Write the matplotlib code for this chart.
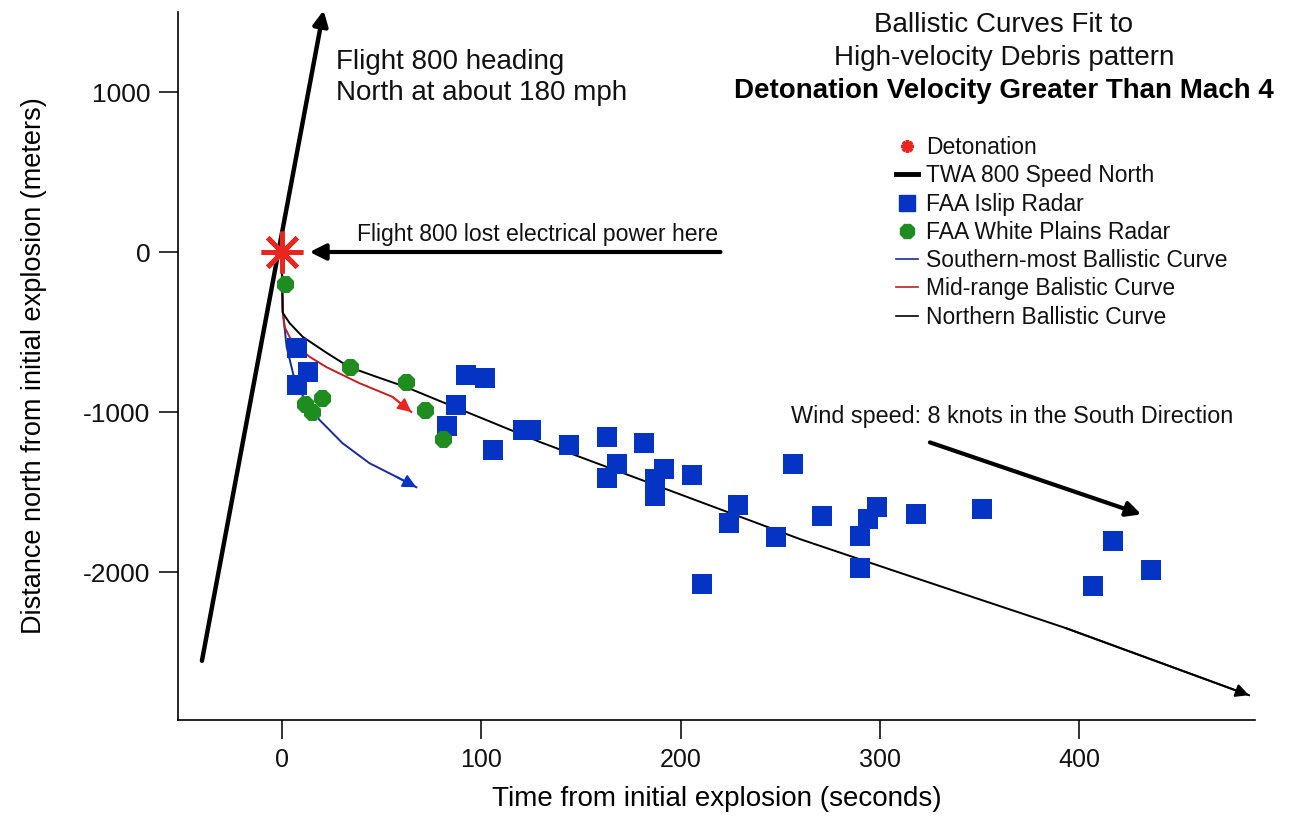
import matplotlib
matplotlib.use("Agg")
import matplotlib.pyplot as plt
from matplotlib.lines import Line2D

plt.rcParams['font.family'] = ['Liberation Sans', 'DejaVu Sans']
plt.rcParams['axes.unicode_minus'] = False

# FAA Islip radar returns (seconds, meters north)
islip_t = [7.5, 13, 7.5, 92.5, 102, 87.5, 83, 106, 121, 125, 144, 163, 163, 168,
           181.5, 191.5, 187, 187, 205.5, 229, 224.5, 248, 210.5, 256.5, 271, 298.5,
           294, 290, 290, 318, 351, 417, 436, 407]
islip_y = [-600, -750, -830, -770, -790, -955, -1090, -1240, -1115, -1115, -1205,
           -1155, -1415, -1325, -1195, -1355, -1420, -1525, -1395, -1580, -1695,
           -1780, -2075, -1325, -1650, -1595, -1670, -1775, -1975, -1640, -1605,
           -1805, -1990, -2090]

# FAA White Plains radar returns
wp_t = [1.5, 11.5, 15, 20, 34, 62.5, 72, 81]
wp_y = [-200, -950, -1000, -910, -720, -812, -988, -1170]

# ballistic curves
south_t = [0, 0.5, 2.5, 6.5, 12.5, 19, 30.5, 44, 57.5, 67.5]
south_y = [0, -365, -595, -800, -945, -1050, -1195, -1320, -1405, -1470]
mid_t = [0, 0.5, 1.5, 5.5, 14, 22.5, 39, 55.5, 65]
mid_y = [0, -370, -470, -570, -655, -720, -820, -905, -1000]
north_t = [0, 0.5, 4, 10.5, 22.5, 34, 47.5, 62.5, 79, 130, 260, 310, 393, 485]
north_y = [0, -380, -445, -530, -630, -720, -780, -845, -930, -1190, -1795, -2005,
           -2350, -2770]

# TWA 800 track north
heading_t = [-40, 21]
heading_y = [-2555, 1510]

fig = plt.figure(figsize=(12.89, 8.27), dpi=100)
ax = fig.add_axes([178 / 1289, 107 / 827, (1255 - 178) / 1289, (720 - 12) / 827])

ax.set_xlim(-52, 488)
ax.set_ylim(-2925, 1500)
for s in ['top', 'right']:
    ax.spines[s].set_visible(False)
ax.spines['left'].set_linewidth(1.2)
ax.spines['bottom'].set_linewidth(1.2)
ax.set_xticks([0, 100, 200, 300, 400])
ax.set_yticks([1000, 0, -1000, -2000])
ax.tick_params(direction='out', length=14, width=1.2, pad=6, colors='#111111')
for lab in ax.get_xticklabels():
    lab.set_fontsize(18)
for lab in ax.get_yticklabels():
    lab.set_fontsize(19)

ax.set_xlabel('Time from initial explosion (seconds)', fontsize=20, labelpad=10)
ax.set_ylabel('Distance north from initial explosion (meters)', fontsize=19.5,
              labelpad=26)

blue = '#0533c4'
green = '#1e8c1e'
red = '#e8251f'

# heading line
ax.annotate('', xy=(heading_t[1], heading_y[1]), xytext=(heading_t[0], heading_y[0]),
            arrowprops=dict(arrowstyle='-|>', color='black', lw=3.2,
                            mutation_scale=22, shrinkA=0, shrinkB=0),
            annotation_clip=False, zorder=3)

# ballistic curves with arrow heads at the end
curves = [(south_t, south_y, '#1a2a9a', blue),
          (mid_t, mid_y, '#c02020', red),
          (north_t, north_y, 'black', 'black')]
for t, y, c, hc in curves:
    ax.plot(t, y, color=c, lw=1.4, zorder=4)
    ax.annotate('', xy=(t[-1], y[-1]), xytext=(t[-2], y[-2]),
                arrowprops=dict(arrowstyle='-|>', color=hc, lw=1.4,
                                mutation_scale=20, shrinkA=0, shrinkB=0),
                annotation_clip=False, zorder=4)

ax.scatter(islip_t, islip_y, marker='s', s=200, color=blue, linewidths=0, zorder=5)
ax.scatter(wp_t, wp_y, marker='8', s=175, color=green, linewidths=0, zorder=6)
ax.plot([0], [0], marker=(8, 2, 0), markersize=30, markeredgewidth=3.5,
        color=red, zorder=7)

# annotations
ax.annotate('', xy=(14, 0), xytext=(220, 0),
            arrowprops=dict(arrowstyle='-|>', color='black', lw=3,
                            mutation_scale=24, shrinkA=0, shrinkB=0))
ax.text(37.5, 110, 'Flight 800 lost electrical power here', fontsize=16.6,
        va='center', ha='left', color='#111111')
ax.text(27, 1190, 'Flight 800 heading', fontsize=20, va='center', ha='left',
        color='#111111')
ax.text(27, 995, 'North at about 180 mph', fontsize=20, va='center', ha='left',
        color='#111111')

ax.annotate('', xy=(431, -1640), xytext=(325, -1190),
            arrowprops=dict(arrowstyle='-|>', color='black', lw=3,
                            mutation_scale=22, shrinkA=0, shrinkB=0))
ax.text(255.5, -1031, 'Wind speed: 8 knots in the South Direction', fontsize=16.8,
        va='center', ha='left', color='#111111')

ax.text(362, 1418, 'Ballistic Curves Fit to', fontsize=20, ha='center',
        va='center', color='#111111')
ax.text(362, 1212, 'High-velocity Debris pattern', fontsize=20, ha='center',
        va='center', color='#111111')
ax.text(362, 1006, 'Detonation Velocity Greater Than Mach 4', fontsize=20,
        fontweight='bold', ha='center', va='center', color='black')

handles = [
    Line2D([], [], ls='none', marker=(8, 2, 0), markersize=9, markeredgewidth=2.5,
           color=red),
    Line2D([], [], color='black', lw=3.5),
    Line2D([], [], ls='none', marker='s', markersize=12, color=blue),
    Line2D([], [], ls='none', marker='8', markersize=11, color=green),
    Line2D([], [], color='#1a2a9a', lw=1.2),
    Line2D([], [], color='#c02020', lw=1.2),
    Line2D([], [], color='black', lw=1.2),
]
labels = ['Detonation', 'TWA 800 Speed North', 'FAA Islip Radar',
          'FAA White Plains Radar', 'Southern-most Ballistic Curve',
          'Mid-range Balistic Curve', 'Northern Ballistic Curve']
leg = ax.legend(handles, labels, loc='upper left',
                bbox_to_anchor=(896 / 1289, 1 - 136 / 827),
                bbox_transform=fig.transFigure, frameon=False, fontsize=16.5,
                handlelength=0.95, handletextpad=0.35, labelspacing=0.23,
                borderpad=0, borderaxespad=0)
for txt in leg.get_texts():
    txt.set_color('#111111')

fig.savefig('out.png', dpi=100)
